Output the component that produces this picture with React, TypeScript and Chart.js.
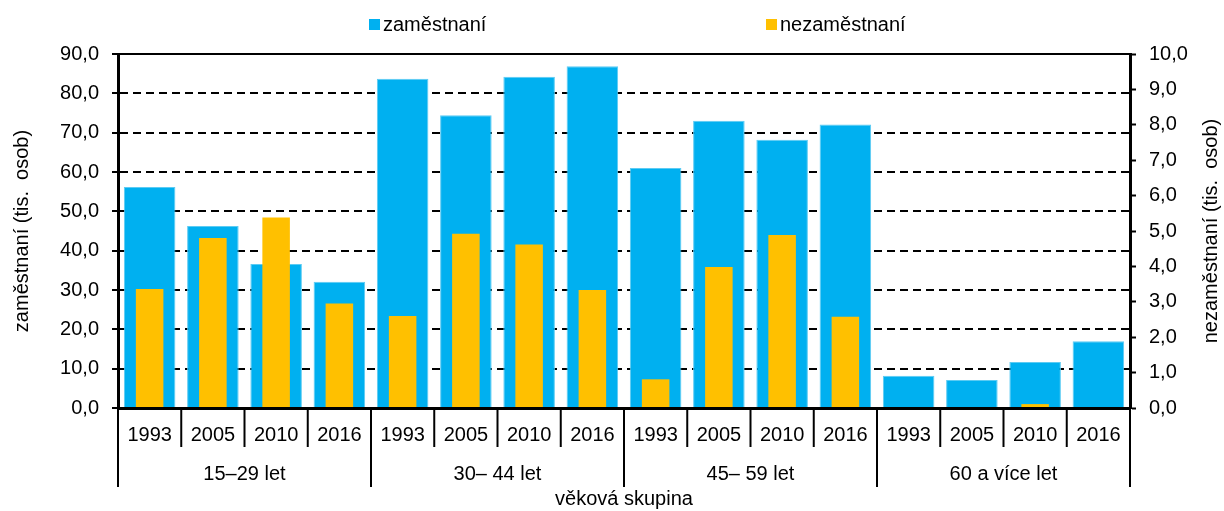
import React, { useEffect, useRef } from 'react';
import { Chart, registerables } from 'chart.js';

Chart.register(...registerables);

// ---- data ----
const ageGroups = ['15–29 let', '30– 44 let', '45– 59 let', '60 a více let'];
const years = ['1993', '2005', '2010', '2016'];
const employed = [56.2, 46.3, 36.6, 32.1, 83.7, 74.4, 84.2, 86.9, 61.0, 73.0, 68.2, 72.1, 8.2, 7.1, 11.7, 17.0];
const unemployed = [3.36, 4.8, 5.38, 2.95, 2.6, 4.92, 4.62, 3.33, 0.81, 3.98, 4.89, 2.58, 0, 0, 0.11, 0];
const seriesNames = ['zaměstnaní', 'nezaměstnaní'];
const leftTitle = 'zaměstnaní (tis.  osob)';
const rightTitle = 'nezaměstnaní (tis.  osob)';
const xTitle = 'věková skupina';

const categories = ageGroups.flatMap(() => years);

const FONT = '"Liberation Sans", Arial, Helvetica, sans-serif';
const FS = 20;
const BLUE = '#00B0F0';
const YELLOW = '#FFC000';

const fmt = (v: number) => Number(v).toFixed(1).replace('.', ',');

const decorPlugin = {
  id: 'decor',
  afterDraw(chart: any) {
    const { ctx, chartArea } = chart;
    const x = chart.scales.x;
    const yr = chart.scales.y1;
    const n = chart.data.labels.length;
    const step = (x.right - x.left) / n;
    const bottom = chartArea.bottom;
    ctx.save();
    ctx.strokeStyle = '#000';
    ctx.lineWidth = 2;
    // top frame line
    ctx.beginPath();
    ctx.moveTo(chartArea.left, chartArea.top);
    ctx.lineTo(chartArea.right, chartArea.top);
    ctx.stroke();
    // separators
    for (let k = 0; k <= n; k++) {
      const px = x.left + k * step;
      const isGroup = k % years.length === 0;
      ctx.beginPath();
      ctx.moveTo(px, bottom);
      ctx.lineTo(px, bottom + (isGroup ? 79 : 39));
      ctx.stroke();
    }
    ctx.font = `${FS}px ${FONT}`;
    ctx.fillStyle = '#000';
    ctx.textAlign = 'center';
    ctx.textBaseline = 'middle';
    ageGroups.forEach((g, i) => {
      const cx = x.left + (i * years.length + years.length / 2) * step;
      ctx.fillText(g, cx, bottom + 66);
    });
    // right axis title (reads bottom-to-top)
    ctx.save();
    ctx.translate(yr.right - 12.5, (chartArea.top + chartArea.bottom) / 2);
    ctx.rotate(-Math.PI / 2);
    ctx.fillText(rightTitle, 0, 0);
    ctx.restore();
    // legend
    const legendX = [369, 766];
    ctx.textAlign = 'left';
    chart.data.datasets.forEach((ds: any, i: number) => {
      ctx.fillStyle = ds.backgroundColor;
      ctx.fillRect(legendX[i], 19, 11, 11);
      ctx.fillStyle = '#000';
      ctx.fillText(ds.label, legendX[i] + 14, 25);
    });
    ctx.restore();
  },
};

export default function App() {
  const ref = useRef<HTMLCanvasElement | null>(null);

  useEffect(() => {
    if (!ref.current) return;
    Chart.defaults.font.family = FONT;
    Chart.defaults.font.size = FS;
    Chart.defaults.color = '#000';
    const chart = new Chart(ref.current, {
      type: 'bar',
      data: {
        labels: categories,
        datasets: [
          {
            label: seriesNames[0],
            data: employed,
            backgroundColor: BLUE,
            borderColor: '#5ccbf3',
            borderWidth: 1,
            yAxisID: 'y',
            barPercentage: 0.815,
            categoryPercentage: 1,
            grouped: false,
            order: 2,
          },
          {
            label: seriesNames[1],
            data: unemployed,
            backgroundColor: YELLOW,
            borderWidth: 0,
            yAxisID: 'y1',
            barPercentage: 0.435,
            categoryPercentage: 1,
            grouped: false,
            order: 1,
          },
        ],
      },
      options: {
        responsive: false,
        maintainAspectRatio: false,
        animation: false,
        devicePixelRatio: 1,
        layout: { padding: { top: 54, left: 0, right: 0, bottom: 0 } },
        plugins: {
          legend: { display: false },
          tooltip: { enabled: false },
        },
        scales: {
          x: {
            type: 'category',
            offset: true,
            grid: { display: false, drawTicks: false },
            border: { display: true, color: '#000', width: 3, z: 1 },
            ticks: { padding: 15, color: '#000', font: { size: FS }, maxRotation: 0, autoSkip: false },
            title: { display: true, text: xTitle, color: '#000', font: { size: FS }, padding: { top: 0, bottom: 0 } },
            afterFit: (s: any) => { s.height = 103; },
          },
          y: {
            position: 'left',
            min: 0,
            max: 90,
            ticks: { stepSize: 10, padding: 13, color: '#000', callback: (v: any) => fmt(v) },
            grid: {
              color: (c: any) => (c.tick && (c.tick.value === 0 || c.tick.value === 90) ? 'rgba(0,0,0,0)' : '#000'),
              lineWidth: 2,
              tickColor: '#000',
              tickLength: 6,
              tickWidth: 2,
              tickBorderDash: [],
            },
            border: { display: true, color: '#000', width: 3, dash: [8, 5] },
            title: { display: true, text: leftTitle, color: '#000', font: { size: FS }, padding: { top: 10, bottom: 0 } },
            afterFit: (s: any) => { s.width = 118; },
          },
          y1: {
            position: 'right',
            min: 0,
            max: 10,
            ticks: { stepSize: 1, padding: 13, color: '#000', callback: (v: any) => fmt(v) },
            grid: { drawOnChartArea: false, tickColor: '#000', tickLength: 6, tickWidth: 2 },
            border: { display: true, color: '#000', width: 3 },
            title: { display: false },
            afterFit: (s: any) => { s.width = 94; },
          },
        },
      },
      plugins: [decorPlugin],
    } as any);
    return () => chart.destroy();
  }, []);

  return (
    <div style={{ position: 'fixed', left: 0, top: 0, width: 1224, height: 511, background: '#fff' }}>
      <canvas ref={ref} width={1224} height={511} style={{ width: 1224, height: 511 }} />
    </div>
  );
}
